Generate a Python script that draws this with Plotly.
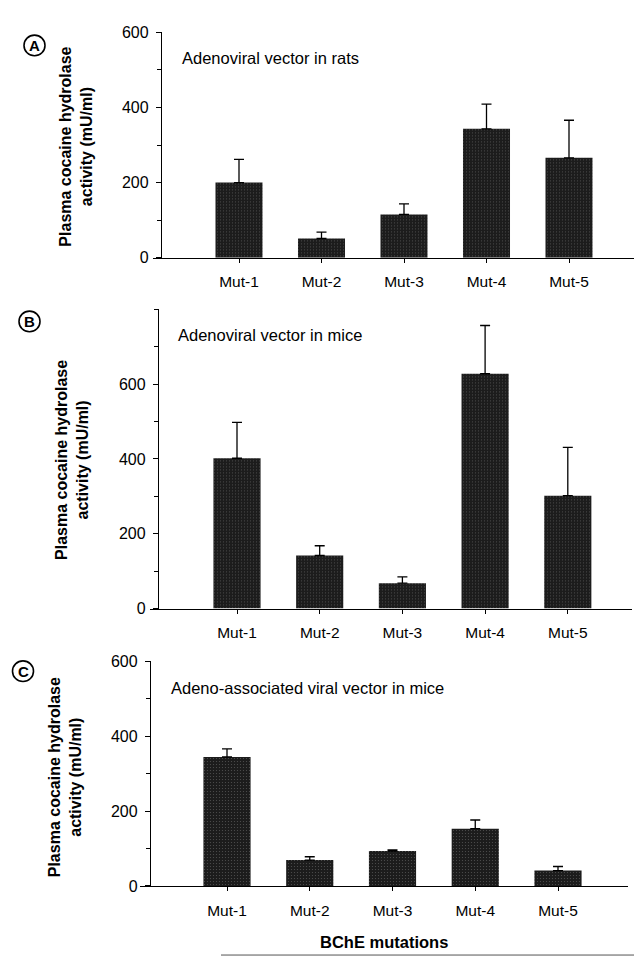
import plotly.graph_objects as go

W, H = 642, 958

categories = ["Mut-1", "Mut-2", "Mut-3", "Mut-4", "Mut-5"]

rats_adeno = [200, 51, 115, 343, 266]
rats_adeno_err = [62, 17, 28, 66, 100]

mice_adeno = [402, 142, 68, 628, 302]
mice_adeno_err = [96, 26, 17, 129, 129]

mice_aav = [344, 69, 93, 153, 41]
mice_aav_err = [22, 9, 3, 23, 11]

panel_titles = ["Adenoviral vector in rats", "Adenoviral vector in mice",
                "Adeno-associated viral vector in mice"]
panel_letters = ["A", "B", "C"]
y_title_lines = ["Plasma cocaine hydrolase", "activity (mU/ml)"]
x_title = "BChE mutations"

FONT = "Liberation Sans, Arial, Helvetica, sans-serif"

panels = [
    dict(data=rats_adeno, err=rats_adeno_err, left=145, right=630, yax=153, c0=231, sp=82.5,
         y0=246, ytop=16.7, ymax=600, ticks=[0, 200, 400, 600]),
    dict(data=mice_adeno, err=mice_adeno_err, left=142, right=624, yax=150, c0=229, sp=82.7,
         y0=603.3, ytop=298.7, ymax=800, ticks=[0, 200, 400, 600]),
    dict(data=mice_aav, err=mice_aav_err, left=132, right=620, yax=142, c0=219, sp=82.75,
         y0=885.7, ytop=656.7, ymax=600, ticks=[0, 200, 400, 600]),
]

fig = go.Figure()
layout = {}
for i, p in enumerate(panels):
    n = "" if i == 0 else str(i + 1)
    xa, ya = "x" + n, "y" + n
    fig.add_trace(go.Bar(
        x=list(range(len(categories))), y=p["data"], xaxis=xa, yaxis=ya,
        width=0.57,
        marker=dict(color="#1c1c1c", line=dict(width=0),
                    pattern=dict(shape=".", fgcolor="#8a8a8a", bgcolor="#1c1c1c",
                                 size=3, solidity=0.12)),
        error_y=dict(type="data", symmetric=False, array=p["err"],
                     arrayminus=[0] * len(p["err"]), color="black",
                     thickness=1.3, width=5),
        showlegend=False,
    ))
    xr0 = -(p["c0"] - p["left"]) / p["sp"]
    xr1 = (p["right"] - p["c0"]) / p["sp"]
    layout["xaxis" + n] = dict(
        domain=[p["left"] / W, p["right"] / W], range=[xr0, xr1], anchor=ya,
        tickmode="array", tickvals=list(range(len(categories))), ticktext=categories,
        showline=True, linecolor="black", linewidth=1.3,
        ticks="outside", ticklen=4, tickcolor="black", tickwidth=1,
        ticklabelstandoff=6,
        tickfont=dict(family=FONT, size=15.5, color="black"),
        showgrid=False, zeroline=False, fixedrange=True,
    )
    layout["yaxis" + n] = dict(
        domain=[1 - p["y0"] / H, 1 - p["ytop"] / H], range=[0, p["ymax"]],
        anchor="free", position=p["yax"] / W,
        tickmode="array", tickvals=p["ticks"],
        showline=True, linecolor="black", linewidth=1.3,
        ticks="outside", ticklen=5, tickcolor="black", tickwidth=1,
        minor=dict(dtick=100, ticks="outside", ticklen=4, tickcolor="black", tickwidth=1),
        tickfont=dict(family=FONT, size=16, color="black"),
        ticklabelstandoff=4,
        showgrid=False, zeroline=False, fixedrange=True,
    )

annotations = []
shapes = []
title_pos = [(172, 43), (168, 325), (161, 684)]
ytitle_pos = [(68, 133), (64, 452), (57, 775)]
letter_pos = [(26.5, 30), (21.5, 311), (15, 667)]
y_title_html = "<br>".join("<b>" + s + "</b>" for s in y_title_lines)
for i in range(3):
    tx, ty = title_pos[i]
    annotations.append(dict(text=panel_titles[i], x=tx / W, y=1 - ty / H, xref="paper", yref="paper",
                            xanchor="left", yanchor="middle", showarrow=False,
                            font=dict(family=FONT, size=16.5, color="black")))
    yx, yy = ytitle_pos[i]
    annotations.append(dict(text=y_title_html, x=yx / W, y=1 - yy / H, xref="paper", yref="paper",
                            xanchor="center", yanchor="middle", showarrow=False, textangle=-90,
                            font=dict(family=FONT, size=16, color="black")))
    lx, ly = letter_pos[i]
    annotations.append(dict(text="<b>" + panel_letters[i] + "</b>", x=lx / W, y=1 - ly / H,
                            xref="paper", yref="paper", xanchor="center", yanchor="middle",
                            showarrow=False, font=dict(family=FONT, size=15, color="black")))
    r = 10.5
    shapes.append(dict(type="circle", xref="paper", yref="paper",
                       x0=(lx - r) / W, x1=(lx + r) / W, y0=1 - (ly + r) / H, y1=1 - (ly - r) / H,
                       line=dict(color="black", width=1.6)))

annotations.append(dict(text="<b>" + x_title + "</b>", x=376 / W, y=1 - 943 / H, xref="paper", yref="paper",
                        xanchor="center", yanchor="middle", showarrow=False,
                        font=dict(family=FONT, size=16.5, color="black")))
shapes.append(dict(type="line", xref="paper", yref="paper", x0=213 / W, x1=1.0,
                   y0=1 - 956 / H, y1=1 - 956 / H, line=dict(color="#555", width=1)))

fig.update_layout(
    width=W, height=H, margin=dict(l=0, r=0, t=0, b=0),
    paper_bgcolor="white", plot_bgcolor="white",
    annotations=annotations, shapes=shapes, bargap=0.4,
    **layout,
)

fig.write_html("out.html")
